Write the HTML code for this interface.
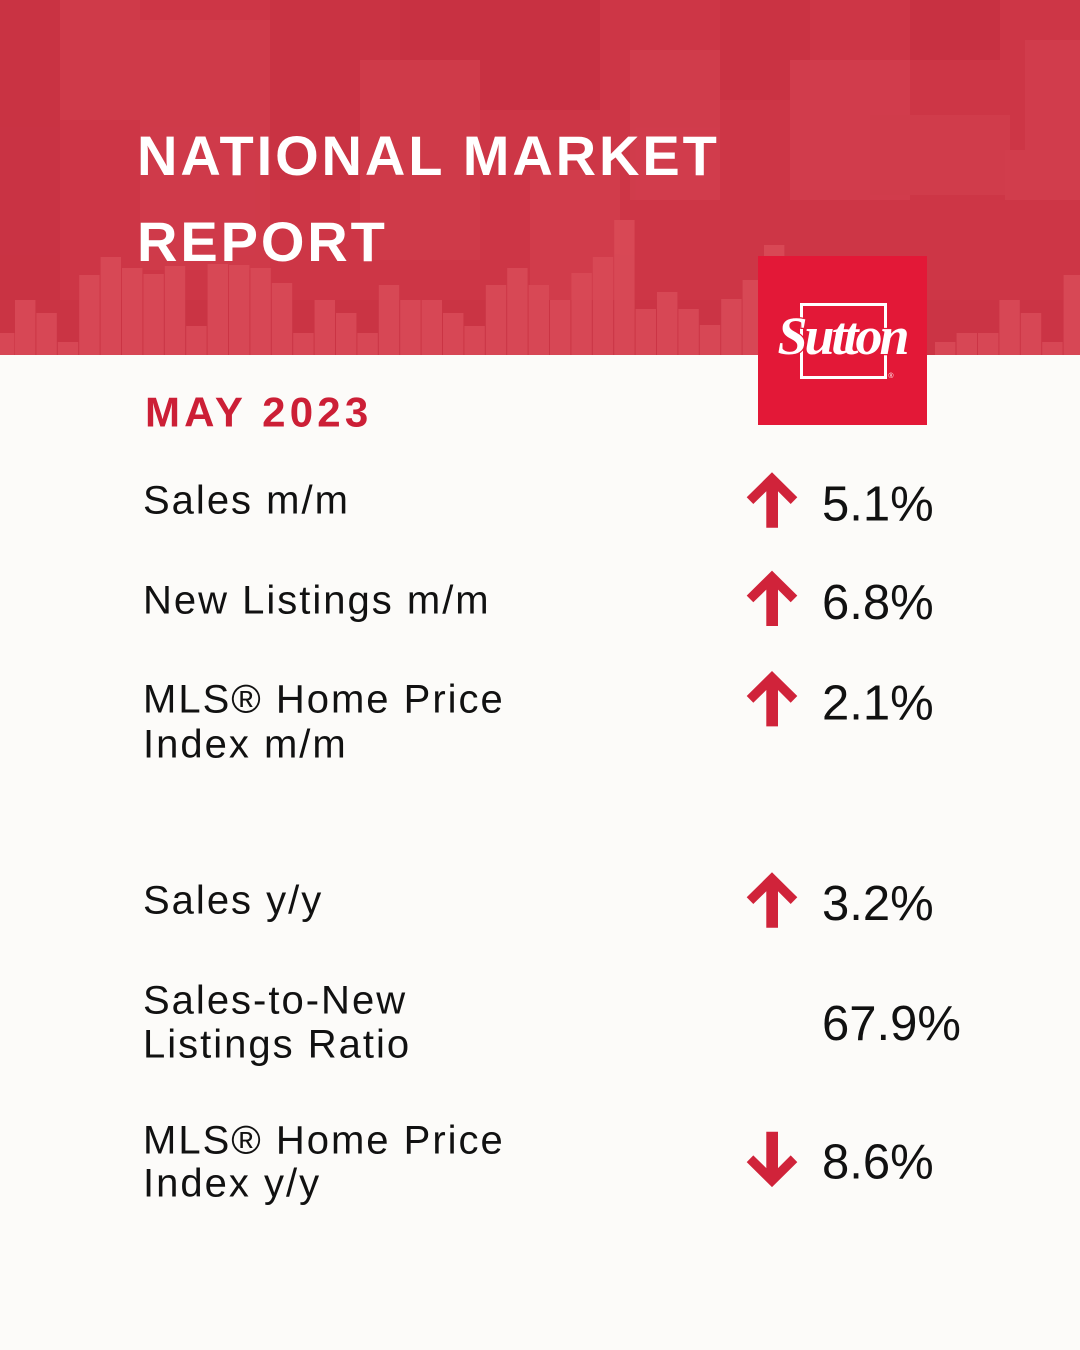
<!DOCTYPE html>
<html>
<head>
<meta charset="utf-8">
<style>
  html, body { margin:0; padding:0; background:#fcfbf9; }
  body { width:1080px; height:1350px; overflow:hidden; }
  svg { display:block; }
  .lbl { font-family:"Liberation Sans", Arial, sans-serif; font-size:40px; fill:#111; letter-spacing:2px; }
  .val { font-family:"Liberation Sans", Arial, sans-serif; font-size:49px; fill:#111; }
</style>
</head>
<body>
<svg width="1080" height="1350" viewBox="0 0 1080 1350" xmlns="http://www.w3.org/2000/svg">
  <rect x="0" y="0" width="1080" height="1350" fill="#fcfbf9"/>

  <!-- Header background -->
  <rect x="0" y="0" width="1080" height="355" fill="#cd3646"/>
  <g opacity="0.4">
    <rect x="0" y="0" width="60" height="300" fill="#c42f40"/>
    <rect x="60" y="0" width="80" height="120" fill="#d4404f"/>
    <rect x="140" y="20" width="130" height="250" fill="#d3404f"/>
    <rect x="270" y="0" width="130" height="180" fill="#c52f41"/>
    <rect x="400" y="0" width="200" height="110" fill="#c22c3e"/>
    <rect x="360" y="60" width="120" height="200" fill="#d2404f"/>
    <rect x="530" y="170" width="90" height="150" fill="#d74553"/>
    <rect x="630" y="50" width="90" height="150" fill="#d64654"/>
    <rect x="720" y="0" width="90" height="100" fill="#c62f41"/>
    <rect x="790" y="60" width="120" height="140" fill="#d84755"/>
    <rect x="870" y="115" width="140" height="80" fill="#d64654"/>
    <rect x="910" y="0" width="90" height="60" fill="#c22c3e"/>
    <rect x="1025" y="40" width="55" height="110" fill="#d74755"/>
    <rect x="1005" y="150" width="75" height="50" fill="#d84957"/>
    <rect x="0" y="300" width="1080" height="55" fill="#c73343"/>
  </g>
  <!-- bars -->
  <g fill="#d94a57" opacity="0.9">
    <rect x="-6" y="333" width="20.4" height="22"/>
    <rect x="15" y="300" width="20.4" height="55"/>
    <rect x="36.4" y="313" width="20.4" height="42"/>
    <rect x="57.8" y="342" width="20.4" height="13"/>
    <rect x="79.2" y="275" width="20.4" height="80"/>
    <rect x="100.6" y="257" width="20.4" height="98"/>
    <rect x="122" y="268" width="20.4" height="87"/>
    <rect x="143.4" y="274" width="20.4" height="81"/>
    <rect x="164.8" y="266" width="20.4" height="89"/>
    <rect x="186.2" y="326" width="20.4" height="29"/>
    <rect x="207.6" y="264" width="20.4" height="91"/>
    <rect x="229" y="265" width="20.4" height="90"/>
    <rect x="250.4" y="268" width="20.4" height="87"/>
    <rect x="271.8" y="283" width="20.4" height="72"/>
    <rect x="293.2" y="333" width="20.4" height="22"/>
    <rect x="314.6" y="300" width="20.4" height="55"/>
    <rect x="336" y="313" width="20.4" height="42"/>
    <rect x="357.4" y="333" width="20.4" height="22"/>
    <rect x="378.8" y="285" width="20.4" height="70"/>
    <rect x="400.2" y="300" width="20.4" height="55"/>
    <rect x="421.6" y="300" width="20.4" height="55"/>
    <rect x="443" y="313" width="20.4" height="42"/>
    <rect x="464.4" y="326" width="20.4" height="29"/>
    <rect x="485.8" y="285" width="20.4" height="70"/>
    <rect x="507.2" y="268" width="20.4" height="87"/>
    <rect x="528.6" y="285" width="20.4" height="70"/>
    <rect x="550" y="300" width="20.4" height="55"/>
    <rect x="571.4" y="273" width="20.4" height="82"/>
    <rect x="592.8" y="257" width="20.4" height="98"/>
    <rect x="614.2" y="220" width="20.4" height="135"/>
    <rect x="635.6" y="309" width="20.4" height="46"/>
    <rect x="657" y="292" width="20.4" height="63"/>
    <rect x="678.4" y="309" width="20.4" height="46"/>
    <rect x="699.8" y="325" width="20.4" height="30"/>
    <rect x="721.2" y="299" width="20.4" height="56"/>
    <rect x="742.6" y="280" width="20.4" height="75"/>
    <rect x="764" y="245" width="20.4" height="110"/>
    <rect x="935" y="342" width="20.4" height="13"/>
    <rect x="956.6" y="333" width="20.4" height="22"/>
    <rect x="978" y="333" width="20.4" height="22"/>
    <rect x="999.4" y="300" width="20.4" height="55"/>
    <rect x="1020.8" y="313" width="20.4" height="42"/>
    <rect x="1042.2" y="342" width="20.4" height="13"/>
    <rect x="1063.6" y="275" width="20.4" height="80"/>
  </g>

  <!-- Title -->
  <g font-family="'Liberation Sans', Arial, sans-serif" font-weight="bold" font-size="56" fill="#ffffff" letter-spacing="2.9">
    <text x="137" y="175">NATIONAL MARKET</text>
    <text x="137" y="261">REPORT</text>
  </g>

  <!-- Logo -->
  <rect x="758" y="256" width="169" height="169" fill="#e31837"/>
  <rect x="801.5" y="304.5" width="84" height="73" fill="none" stroke="#ffffff" stroke-width="3"/>
  <text x="842" y="354" text-anchor="middle" font-family="'Liberation Serif', serif" font-style="italic" font-weight="bold" font-size="54" letter-spacing="-3" fill="#ffffff" stroke="#e31837" stroke-width="2.5" paint-order="stroke">Sutton</text>
  <text x="891" y="378" text-anchor="middle" font-family="'Liberation Sans', sans-serif" font-size="7" fill="#ffffff">®</text>

  <!-- Date -->
  <text x="145" y="426.5" font-family="'Liberation Sans', Arial, sans-serif" font-weight="bold" font-size="42" letter-spacing="4.2" fill="#cc1f36">MAY 2023</text>

  <!-- Labels -->
  <text class="lbl" x="143" y="513.3">Sales m/m</text>
  <text class="lbl" x="143" y="613.3">New Listings m/m</text>
  <text class="lbl" x="143" y="712.3">MLS® Home Price</text>
  <text class="lbl" x="143" y="757.7">Index m/m</text>
  <text class="lbl" x="143" y="913.3">Sales y/y</text>
  <text class="lbl" x="143" y="1013.3">Sales-to-New</text>
  <text class="lbl" x="143" y="1057.7">Listings Ratio</text>
  <text class="lbl" x="143" y="1153.3">MLS® Home Price</text>
  <text class="lbl" x="143" y="1196.7">Index y/y</text>

  <!-- Values -->
  <text class="val" x="822" y="520.7">5.1%</text>
  <text class="val" x="822" y="619">6.8%</text>
  <text class="val" x="822" y="719.3">2.1%</text>
  <text class="val" x="822" y="920">3.2%</text>
  <text class="val" x="822" y="1040">67.9%</text>
  <text class="val" x="822" y="1178.3">8.6%</text>

  <!-- Arrows -->
  <g fill="#d0233a">
    <polygon points="772,472.3 797.3,497.3 790.7,504 778,491.3 778,527.7 766.3,527.7 766.3,491.3 753.3,504 746.7,497.3"/>
    <polygon points="772,570.6 797.3,595.6 790.7,602.3 778,589.6 778,626 766.3,626 766.3,589.6 753.3,602.3 746.7,595.6"/>
    <polygon points="772,671 797.3,696 790.7,702.7 778,690 778,726.4 766.3,726.4 766.3,690 753.3,702.7 746.7,696"/>
    <polygon points="772,872.3 797.3,897.3 790.7,904 778,891.3 778,927.7 766.3,927.7 766.3,891.3 753.3,904 746.7,897.3"/>
    <polygon points="766.3,1131.7 778,1131.7 778,1168.1 790.7,1155.4 797.3,1162.1 772,1187.1 746.7,1162.1 753.3,1155.4 766.3,1168.1"/>
  </g>
</svg>
</body>
</html>
